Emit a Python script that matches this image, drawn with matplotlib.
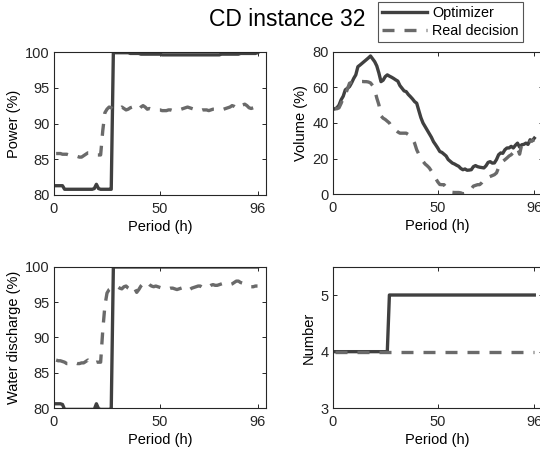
import matplotlib
matplotlib.use('Agg')
import matplotlib.pyplot as plt
import numpy as np

plt.rcParams['font.family'] = ['Liberation Sans', 'DejaVu Sans']

periods = np.arange(1, 97)
xticks = [0, 50, 96]

power_opt = ([81.3, 81.3, 81.3, 81.3] + [80.8] * 14 + [80.9, 81.5, 80.9, 80.8]
             + [80.8] * 5 + [100.0]
             + [99.9] * 7 + [99.8] * 5 + [99.7] * 10 + [99.6] * 25
             + [99.6, 99.6, 99.6, 99.7, 99.7, 99.7, 99.7, 99.7, 99.7, 99.7]
             + [99.7, 99.7, 99.8, 99.8, 99.8, 99.8, 99.8, 99.8, 99.8, 99.8, 99.9])
power_real = [85.8, 85.8, 85.8, 85.7, 85.7, 85.7, 85.6, 85.6,
              85.5, 85.5, 85.4, 85.3, 85.3, 85.5, 85.7, 85.9, 85.9, 85.8,
              85.7, 85.6, 85.6, 85.6,
              89.0, 91.5, 92.0,
              92.3, 92.2, 92.0, 91.9, 92.0, 92.1, 92.3, 92.1, 91.9, 92.0,
              92.2, 92.3, 92.1, 91.9, 92.0, 92.3, 92.5, 92.3, 92.0, 92.1,
              92.0, 91.9, 91.9, 91.9, 91.9, 91.8, 91.8, 91.8, 91.9, 91.9,
              91.8, 91.8, 91.8, 91.9, 92.0, 92.1, 92.2, 92.3, 92.2, 92.1,
              92.0, 91.9, 91.8, 91.8, 91.9, 91.9, 91.9, 91.8, 91.9, 92.0,
              92.0, 92.0, 92.1, 92.1, 92.0, 92.1, 92.2, 92.3, 92.5, 92.4,
              92.2, 92.1, 92.3, 92.6, 92.7, 92.5, 92.2, 92.1, 92.2, 92.2, 92.2]

volume_opt = [48, 48.5, 50, 53, 55, 58.6, 59.5, 60.4, 62.5, 65,
              67, 71.6, 72.5, 73.5, 74.5, 75.5, 76.5, 77.6, 76, 74.4,
              72, 68, 63.2, 64, 66, 67, 66.3, 65.7, 65, 64.2,
              63.5, 61, 59.5, 58, 57.6, 56, 54.8, 53.5, 52, 51.1,
              47, 43, 40, 38, 36, 34, 32, 29.5, 27.8, 26,
              24, 23.5, 22.5, 21.5, 19.5, 18.5, 17.5, 17, 16.3, 15.7,
              14.5, 13.8, 14.2, 13.5, 13.6, 13.8, 15.5, 16.1, 15.5, 15.2,
              15, 14.8, 16, 17.9, 18.3, 17.5, 17.6, 19.5, 22.2, 23.2,
              23, 25, 26, 26, 26.9, 26, 27.5, 28.7, 26.5, 27.8,
              28, 28.7, 28, 30.6, 30, 31.5]
volume_real = [48, 48, 48.5, 51, 54, 55.8, 59, 62.3, 62.8, 63,
               63.2, 63.2, 63.3, 63.3, 63.2, 63.2, 63, 62.5, 61, 58.6,
               54, 50.2, 44, 42.7, 42, 41, 40, 38, 37.2, 36,
               35, 34.3, 34.3, 34.3, 34.3, 33.5, 32, 31, 28.7, 25,
               22.5, 20.5, 18.5, 17, 16, 14.8, 13, 11, 9, 7,
               5.5, 5.4, 5.4, 4, 2.5, 1.5, 1.1, 1, 1, 1,
               0.8, 0.3, 0.5, 1.5, 2.6, 3, 4.6, 5, 5.4, 5.4,
               6.5, 8, 9.2, 9.5, 10, 10.5, 11, 12, 15, 17.6,
               18.5, 19.4, 20.4, 21.5, 22.2, 23.5, 25, 26, 22.5, 27.8,
               28, 28.7, 28.5, 29.6, 30, 30.6]

discharge_opt = ([80.6, 80.6, 80.6, 80.5] + [79.8] * 15 + [80.6, 79.9]
                 + [79.8] * 6 + [100.0] * 69)
discharge_real = [86.8, 86.7, 86.7, 86.6, 86.5,
                  86.3, 86.3, 86.2, 86.3, 86.4, 86.3, 86.3,
                  86.4, 86.4, 86.6, 86.8, 86.5, 86.3,
                  86.4, 86.5, 86.5, 86.5,
                  91.0, 94.5, 96.3, 96.8,
                  97.0, 97.0, 97.1, 97.2, 97.0, 96.9, 97.2, 97.3, 97.0,
                  96.8, 97.2, 97.0, 96.4, 96.8, 97.3, 97.6, 97.9, 97.8, 97.5,
                  97.3, 97.2, 97.3, 97.2, 97.1, 97.0, 97.0, 96.9, 96.9, 97.0,
                  97.0, 96.9, 96.8, 96.9, 97.0, 97.1, 97.2, 97.0, 96.8, 97.0,
                  97.1, 97.2, 97.3, 97.3, 97.1, 97.0, 97.0, 97.2, 97.4, 97.5,
                  97.4, 97.4, 97.5, 97.6, 97.7, 97.7, 97.6, 97.5, 97.6, 97.8,
                  98.0, 98.0, 97.8, 97.7, 97.5, 97.4, 97.3, 97.2, 97.2, 97.3, 97.3]

units_opt = [4] * 26 + [5] * 70
units_real = [4] * 96

opt_color = '#404040'
real_color = '#6a6a6a'
lw = 2.4

W, H = 540, 455
fig = plt.figure(figsize=(W / 100, H / 100), dpi=100)


def make_ax(left, top, right, bottom):
    # axes box given in pixels from the top-left corner
    return fig.add_axes([left / W, 1 - bottom / H, (right - left) / W, (bottom - top) / H])


panels = [
    (make_ax(54, 52, 266, 195), power_opt, power_real, (80, 100), [80, 85, 90, 95, 100], 'Power (%)'),
    (make_ax(332.7, 51.7, 542.7, 194.3), volume_opt, volume_real, (0, 80), [0, 20, 40, 60, 80], 'Volume (%)'),
    (make_ax(54, 267, 266, 408), discharge_opt, discharge_real, (80, 100), [80, 85, 90, 95, 100], 'Water discharge (%)'),
    (make_ax(332.7, 266.7, 542.7, 408.3), units_opt, units_real, (3, 5.5), [3, 4, 5], 'Number'),
]

for ax, opt, real, ylim, yticks, ylabel in panels:
    l1, = ax.plot(periods, opt, color=opt_color, lw=lw, solid_joinstyle='round')
    l2, = ax.plot(periods, real, color=real_color, lw=lw, dashes=(3.6, 3.0))
    ax.set_xlim(0, 100)
    ax.set_ylim(*ylim)
    ax.set_xticks(xticks)
    ax.set_yticks(yticks)
    ax.set_xlabel('Period (h)', fontsize=10.5, labelpad=3)
    ax.set_ylabel(ylabel, fontsize=10.5, labelpad=3)
    ax.tick_params(direction='in', length=3, width=0.7, top=True, right=True,
                   labelsize=10.5, colors='#262626')
    ax.tick_params(axis='x', pad=5)
    ax.tick_params(axis='y', pad=3)
    for s in ax.spines.values():
        s.set_color('#262626')
        s.set_linewidth(0.8)

fig.text(287.5 / W, 1 - 20 / H, 'CD instance 32', fontsize=16.5, ha='center', va='center')

leg = fig.legend([l1, l2], ['Optimizer', 'Real decision'], loc='upper left',
                 bbox_to_anchor=(378 / W, 1 - 2 / H), bbox_transform=fig.transFigure,
                 borderaxespad=0, fontsize=10.4, handlelength=3.1, handletextpad=0.35,
                 labelspacing=0.25, borderpad=0.3, fancybox=False, framealpha=1)
leg.get_frame().set_edgecolor('#555555')
leg.get_frame().set_linewidth(0.8)

fig.savefig('out.png', dpi=100)
